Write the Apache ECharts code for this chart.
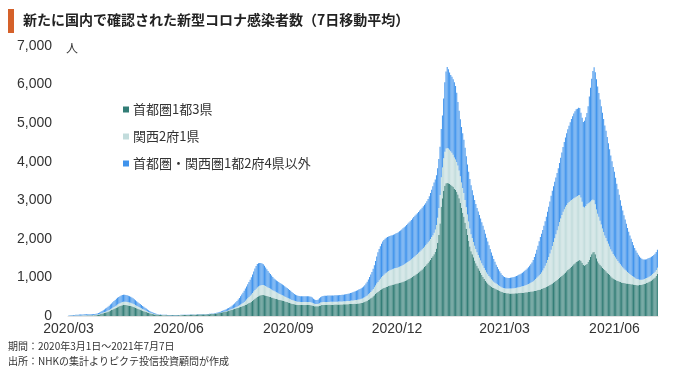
<!DOCTYPE html>
<html><head><meta charset="utf-8">
<script src="https://cdn.jsdelivr.net/npm/echarts@6/dist/echarts.min.js"></script>
<style>html,body{margin:0;padding:0;background:#fff}#c{width:680px;height:371px}</style>
</head><body><div id="c"></div>
<script>
const chartTitle = '新たに国内で確認された新型コロナ感染者数（7日移動平均）';
const seriesNames = ['首都圏1都3県', '関西2府1県', '首都圏・関西圏1都2府4県以外'];
const seriesColors = ['#327d76', '#c2dcdc', '#3f93ec'];
const startDate = [2020, 3, 1];
const dayCount = 494; // 2020/03/01 .. 2021/07/07
const tickMonths = ['2020/03', '2020/06', '2020/09', '2020/12', '2021/03', '2021/06'];
const yMax = 7000, yStep = 1000;
const unitLabel = '人';
const notes = ['期間：2020年3月1日～2021年7月7日', '出所：NHKの集計よりピクテ投信投資顧問が作成'];

// 首都圏1都3県 (daily, 7-day average)
const tokyoArea = [
 3,3,4,4,5,5,6,6,7,7,7,8,8,8,9,9,10,10,11,12,13,15,18,22,28,34,42,52,62,72,80,
 90,100,112,125,140,155,170,185,200,215,230,245,258,270,280,285,285,282,278,272,265,258,250,240,228,215,200,188,175,162,
 150,138,126,114,102,90,80,70,62,55,48,42,37,33,30,27,25,23,22,21,20,20,19,19,19,18,18,18,18,19,20,
 20,21,22,23,24,25,26,27,28,29,30,31,32,33,34,35,36,36,37,38,39,40,41,42,43,45,47,49,51,54,
 56,60,65,70,76,82,88,95,102,110,118,126,135,145,155,165,175,185,195,205,215,225,235,245,258,270,285,300,318,335,352,
 370,395,420,445,470,495,515,530,540,545,545,540,530,520,510,500,490,480,470,460,450,440,432,424,416,408,400,390,380,370,360,
 350,340,330,320,312,305,298,292,288,285,283,282,282,282,283,283,284,284,283,280,272,262,255,250,250,255,265,275,282,285,
 286,287,288,289,290,291,292,293,294,295,296,297,298,299,300,301,302,303,304,305,306,308,310,312,314,316,318,320,323,326,330,
 338,346,356,368,382,398,416,436,458,482,510,540,570,600,625,650,672,692,710,726,740,752,764,776,788,800,810,818,826,834,
 840,848,856,866,876,888,900,914,928,944,960,978,996,1016,1036,1058,1080,1104,1128,1154,1180,1208,1238,1270,1305,1340,1378,1418,1460,1505,1550,
 1600,1660,1750,1900,2100,2400,2830,3050,3250,3380,3440,3450,3440,3420,3400,3380,3350,3300,3270,3220,3150,3050,2930,2800,2680,2570,2420,2260,2100,1950,1800,
 1680,1600,1520,1440,1370,1300,1240,1180,1120,1060,1010,960,915,875,840,810,785,760,740,725,710,695,680,665,650,635,620,610,
 600,595,590,588,586,585,585,585,586,588,590,592,595,598,600,603,606,610,614,618,622,627,632,638,644,650,657,664,672,680,690,
 700,712,725,740,755,770,787,805,825,845,866,888,910,935,960,985,1010,1040,1070,1100,1130,1160,1190,1220,1250,1280,1310,1340,1370,1400,
 1420,1440,1450,1430,1380,1320,1310,1330,1350,1400,1460,1530,1600,1650,1660,1600,1500,1420,1370,1330,1290,1250,1220,1190,1160,1120,1090,1060,1030,1000,970,
 950,935,920,905,892,880,870,862,855,850,845,840,835,830,825,820,815,810,805,800,800,802,806,812,820,830,842,855,870,885,
 900,920,945,970,1000,1040,1090
];

// 関西2府1県
const kansai = [
 2,2,3,3,4,5,5,6,7,7,8,8,9,9,9,9,9,9,9,9,9,9,10,10,11,12,13,15,17,19,21,
 23,25,28,31,35,40,45,50,55,60,65,70,74,78,82,85,86,87,87,86,85,83,80,77,74,70,66,62,58,54,
 50,46,42,38,34,30,26,22,19,16,13,11,9,7,6,5,4,4,3,3,3,3,2,2,2,2,2,2,2,2,2,
 2,2,2,2,2,2,2,2,2,2,2,2,2,2,2,2,2,2,2,2,2,2,2,2,2,2,2,3,3,3,
 3,3,4,4,5,5,6,7,8,9,10,11,13,15,17,20,24,28,33,38,45,52,60,70,80,95,110,125,140,155,170,
 185,200,215,228,238,246,252,256,258,258,256,252,247,240,232,224,216,208,200,192,184,176,168,160,152,145,138,132,126,120,115,
 110,106,102,98,95,92,89,86,84,82,80,79,78,78,78,78,78,78,77,75,72,68,65,63,63,65,68,72,75,78,
 78,78,77,77,76,76,75,75,75,75,75,75,75,76,76,77,78,79,80,81,82,84,86,88,90,92,94,96,98,100,103,
 106,110,115,121,128,136,145,155,166,178,192,207,223,240,258,276,294,312,330,346,360,372,382,390,396,400,404,408,410,412,
 412,414,418,422,428,434,440,446,452,458,464,470,476,482,488,494,500,505,510,514,518,522,525,528,530,532,534,536,538,540,542,
 560,580,610,650,700,740,770,800,840,880,900,906,900,890,870,850,830,810,790,770,750,720,690,660,640,620,590,560,530,500,470,
 440,420,400,380,365,350,340,330,320,310,300,285,270,255,240,225,210,195,180,165,155,145,140,135,130,125,120,118,
 118,118,120,122,124,127,130,133,136,140,144,148,152,157,162,168,175,182,190,199,208,218,229,241,260,280,300,325,350,375,400,
 430,470,515,565,620,680,745,815,890,970,1050,1130,1210,1290,1370,1450,1520,1580,1630,1670,1700,1720,1730,1735,1735,1730,1720,1710,1700,1690,
 1690,1690,1690,1640,1580,1510,1500,1520,1550,1520,1480,1440,1400,1370,1340,1300,1260,1230,1200,1140,1080,1020,960,900,860,820,780,740,700,670,640,
 610,580,550,520,490,460,430,400,375,350,325,300,280,260,240,220,200,185,170,160,150,140,135,130,128,127,127,128,130,132,
 135,138,141,145,150,155,160
];

// 首都圏・関西圏1都2府4県以外
const others = [
 10,12,13,15,16,18,19,20,21,23,23,24,25,26,26,27,26,27,26,26,26,26,27,28,29,32,35,43,51,59,69,
 80,90,100,110,120,132,143,153,162,170,176,180,183,185,185,183,180,177,172,168,162,155,148,140,132,124,116,108,100,92,
 85,78,71,64,57,50,44,38,32,27,23,19,16,13,11,10,9,8,8,7,7,7,6,6,6,6,6,6,6,6,6,
 6,6,6,6,6,6,6,6,6,6,6,6,6,6,6,6,6,6,6,6,6,6,6,6,7,7,7,8,8,9,
 10,12,14,16,20,24,30,35,40,45,50,55,60,66,74,84,96,110,126,145,165,190,215,240,265,290,315,340,365,390,420,
 450,480,520,560,590,610,600,590,575,560,540,510,480,450,425,400,380,360,340,320,310,305,300,295,290,285,280,272,264,256,248,
 240,230,220,205,190,175,165,160,155,152,150,150,150,150,150,150,150,150,148,145,135,120,105,100,100,110,125,140,150,155,
 158,160,162,163,164,165,165,165,165,165,165,166,167,168,170,172,174,177,180,184,188,193,199,205,212,220,229,238,248,258,270,
 275,285,295,310,330,355,385,420,450,480,520,570,630,700,770,810,845,870,890,900,905,905,900,895,890,885,880,880,885,890,
 900,910,920,930,940,950,960,970,980,990,1000,1010,1020,1030,1040,1045,1050,1055,1060,1065,1070,1075,1080,1085,1090,1100,1120,1150,1190,1230,1270,
 1300,1300,1290,1280,1270,1250,1250,1350,1550,1800,2000,2100,2060,2000,1980,1970,1960,1950,1900,1800,1650,1550,1480,1440,1420,1380,1350,1320,1300,1290,1280,
 1270,1240,1210,1190,1170,1150,1130,1110,1090,1060,1030,990,950,900,850,800,740,690,640,590,540,490,450,410,380,350,320,300,
 290,285,280,278,278,280,283,287,292,298,305,312,320,330,340,352,365,380,396,414,434,456,480,506,550,600,660,730,800,880,960,
 1000,1050,1100,1150,1200,1250,1300,1350,1400,1430,1450,1460,1470,1480,1500,1530,1570,1620,1680,1740,1800,1860,1920,1980,2040,2100,2150,2200,2240,2270,
 2260,2270,2250,2200,2180,2200,2250,2300,2360,2520,2750,2950,3150,3330,3450,3420,3380,3300,3210,3140,3070,3000,2930,2850,2780,2700,2610,2520,2430,2340,2250,
 2180,2070,1960,1860,1760,1660,1560,1470,1380,1300,1220,1140,1070,1000,940,880,820,770,720,680,640,600,570,540,520,505,495,490,488,488,
 480,475,470,468,466,465,465
];

// category labels: one per day
const days = [];
for (let i = 0; i < dayCount; i++) {
  const d = new Date(Date.UTC(startDate[0], startDate[1] - 1, startDate[2] + i));
  const mm = String(d.getUTCMonth() + 1).padStart(2, '0');
  const dd = String(d.getUTCDate()).padStart(2, '0');
  days.push(d.getUTCFullYear() + '/' + mm + '/' + dd);
}

const jpFont = '"Noto Sans CJK JP", "Noto Sans", sans-serif';
const numFont = '"Liberation Sans", Arial, sans-serif';

const chart = echarts.init(document.getElementById('c'), null, {renderer: 'canvas'});
const seriesData = [tokyoArea, kansai, others];
chart.setOption({
  animation: false,
  backgroundColor: '#fff',
  grid: {left: 68, right: 22, top: 46, bottom: 55},
  legend: {
    orient: 'vertical', left: 118, top: 98,
    icon: 'rect', itemWidth: 6, itemHeight: 6, itemGap: 14,
    data: seriesNames,
    textStyle: {fontFamily: jpFont, fontSize: 13, color: '#333', padding: [0, 0, 0, -1]},
    selectedMode: false
  },
  xAxis: {
    type: 'category',
    data: days,
    axisTick: {show: false},
    axisLine: {show: true, lineStyle: {color: '#e2e2e2', width: 1}},
    axisLabel: {
      interval: (idx, val) => tickMonths.includes(val.slice(0, 7)) && val.slice(8) === '01',
      formatter: (val) => val.slice(0, 7),
      fontFamily: numFont, fontSize: 14, color: '#333', margin: 6
    },
    splitLine: {show: false}
  },
  yAxis: {
    type: 'value', min: 0, max: yMax, interval: yStep,
    axisLine: {show: false}, axisTick: {show: false},
    splitLine: {show: false},
    axisLabel: {
      formatter: (v) => v.toString().replace(/\B(?=(\d{3})+(?!\d))/g, ','),
      fontFamily: numFont, fontSize: 14, color: '#333', margin: 16
    }
  },
  series: seriesNames.map((name, i) => ({
    name, type: 'bar', stack: 'total', data: seriesData[i],
    barCategoryGap: '38%',
    itemStyle: {color: seriesColors[i]},
    emphasis: {disabled: true}
  })),
  graphic: [
    {type: 'rect', left: 8, top: 9, shape: {width: 6, height: 24}, style: {fill: '#d5612a'}},
    {type: 'text', left: 23, top: 13, style: {text: chartTitle, font: 'bold 14px ' + jpFont, fill: '#222'}},
    {type: 'text', left: 66, top: 42, style: {text: unitLabel, font: '12px ' + jpFont, fill: '#333'}},
    {type: 'text', left: 8, top: 341, style: {text: notes[0], font: '10px ' + jpFont, fill: '#333'}},
    {type: 'text', left: 8, top: 356, style: {text: notes[1], font: '10px ' + jpFont, fill: '#333'}}
  ]
});
</script>
</body></html>
